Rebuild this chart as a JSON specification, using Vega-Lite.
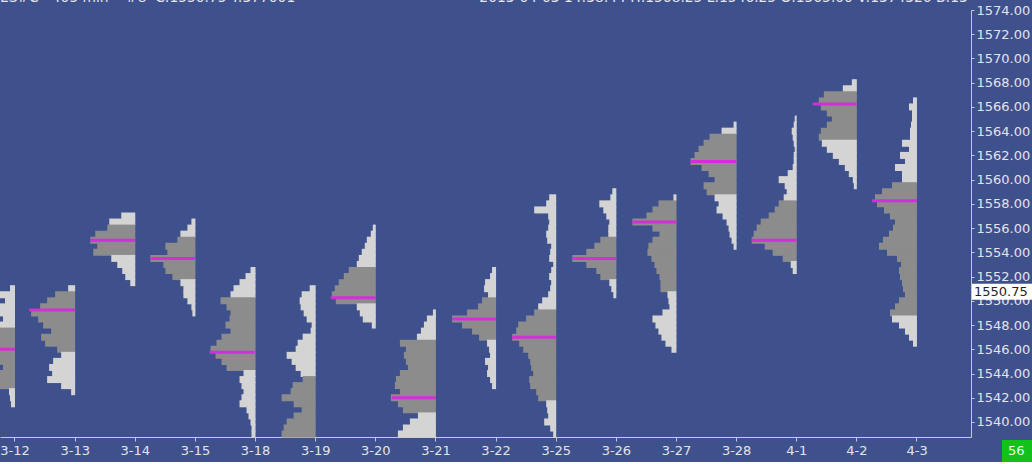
{
"$schema": "https://vega.github.io/schema/vega-lite/v6.json",
"width": 971, "height": 427,
"autosize": {"type": "none"},
"padding": {"left": 0, "top": 10, "right": 61, "bottom": 25},
"background": "#3f518c",
"config": {"view": {"stroke": null},
 "axis": {"domainColor": "#c5c8d8", "tickColor": "#c5c8d8", "labelColor": "#e2e4ea", "labelFont": "DejaVu Sans", "labelFontSize": 13, "grid": false, "title": null}},
"title": {"text": "ES#C\u00a0\u00a0\u00a0405 min\u00a0\u00a0\u00a0\u00a0#8\u00a0\u00a0C:1550.75\u00a0T:377001\u00a0\u00a0\u00a0\u00a0\u00a0\u00a0\u00a0\u00a0\u00a0\u00a0\u00a0\u00a0\u00a0\u00a0\u00a0\u00a0\u00a0\u00a0\u00a0\u00a0\u00a0\u00a0\u00a0\u00a0\u00a0\u00a0\u00a0\u00a0\u00a0\u00a0\u00a0\u00a0\u00a0\u00a0\u00a0\u00a0\u00a0\u00a0\u00a0\u00a0\u00a0\u00a02013-04-03 14:38:44 H:1568.25 L:1546.25 O:1565.00 V:1374326 B:13", "anchor": "start", "frame": "group", "offset": -12, "color": "#e6e6ee", "font": "DejaVu Sans", "fontSize": 13.8, "fontWeight": "normal", "baseline": "alphabetic"},
"datasets": {
"rows": [
{"d":"3-12","p":1551.0,"n":5,"t":"O"},{"d":"3-12","p":1550.5,"n":18,"t":"O"},{"d":"3-12","p":1550.0,"n":10,"t":"O"},{"d":"3-12","p":1549.5,"n":20,"t":"O"},{"d":"3-12","p":1549.0,"n":22,"t":"O"},{"d":"3-12","p":1548.5,"n":12,"t":"O"},{"d":"3-12","p":1548.0,"n":25,"t":"O"},{"d":"3-12","p":1547.5,"n":28,"t":"V"},{"d":"3-12","p":1547.0,"n":32,"t":"V"},{"d":"3-12","p":1546.5,"n":38,"t":"V"},{"d":"3-12","p":1546.0,"n":45,"t":"V"},{"d":"3-12","p":1545.5,"n":35,"t":"V"},{"d":"3-12","p":1545.0,"n":30,"t":"V"},{"d":"3-12","p":1544.5,"n":12,"t":"V"},{"d":"3-12","p":1544.0,"n":25,"t":"V"},{"d":"3-12","p":1543.5,"n":20,"t":"V"},{"d":"3-12","p":1543.0,"n":18,"t":"V"},{"d":"3-12","p":1542.5,"n":6,"t":"O"},{"d":"3-12","p":1542.0,"n":5,"t":"O"},{"d":"3-12","p":1541.5,"n":4,"t":"O"},
{"d":"3-13","p":1551.0,"n":7,"t":"O"},{"d":"3-13","p":1550.5,"n":20,"t":"V"},{"d":"3-13","p":1550.0,"n":28,"t":"V"},{"d":"3-13","p":1549.5,"n":35,"t":"V"},{"d":"3-13","p":1549.0,"n":44,"t":"V"},{"d":"3-13","p":1548.5,"n":37,"t":"V"},{"d":"3-13","p":1548.0,"n":32,"t":"V"},{"d":"3-13","p":1547.5,"n":24,"t":"V"},{"d":"3-13","p":1547.0,"n":34,"t":"V"},{"d":"3-13","p":1546.5,"n":30,"t":"V"},{"d":"3-13","p":1546.0,"n":18,"t":"V"},{"d":"3-13","p":1545.5,"n":14,"t":"O"},{"d":"3-13","p":1545.0,"n":22,"t":"O"},{"d":"3-13","p":1544.5,"n":26,"t":"O"},{"d":"3-13","p":1544.0,"n":23,"t":"O"},{"d":"3-13","p":1543.5,"n":28,"t":"O"},{"d":"3-13","p":1543.0,"n":14,"t":"O"},{"d":"3-13","p":1542.5,"n":4,"t":"O"},
{"d":"3-14","p":1557.0,"n":14,"t":"O"},{"d":"3-14","p":1556.5,"n":26,"t":"O"},{"d":"3-14","p":1556.0,"n":28,"t":"V"},{"d":"3-14","p":1555.5,"n":40,"t":"V"},{"d":"3-14","p":1555.0,"n":45,"t":"V"},{"d":"3-14","p":1554.5,"n":38,"t":"V"},{"d":"3-14","p":1554.0,"n":42,"t":"V"},{"d":"3-14","p":1553.5,"n":24,"t":"O"},{"d":"3-14","p":1553.0,"n":18,"t":"O"},{"d":"3-14","p":1552.5,"n":13,"t":"O"},{"d":"3-14","p":1552.0,"n":10,"t":"O"},{"d":"3-14","p":1551.5,"n":5,"t":"O"},
{"d":"3-15","p":1556.5,"n":4,"t":"O"},{"d":"3-15","p":1556.0,"n":8,"t":"O"},{"d":"3-15","p":1555.5,"n":15,"t":"O"},{"d":"3-15","p":1555.0,"n":18,"t":"V"},{"d":"3-15","p":1554.5,"n":30,"t":"V"},{"d":"3-15","p":1554.0,"n":28,"t":"V"},{"d":"3-15","p":1553.5,"n":45,"t":"V"},{"d":"3-15","p":1553.0,"n":32,"t":"V"},{"d":"3-15","p":1552.5,"n":30,"t":"V"},{"d":"3-15","p":1552.0,"n":23,"t":"V"},{"d":"3-15","p":1551.5,"n":15,"t":"O"},{"d":"3-15","p":1551.0,"n":12,"t":"O"},{"d":"3-15","p":1550.5,"n":12,"t":"O"},{"d":"3-15","p":1550.0,"n":8,"t":"O"},{"d":"3-15","p":1549.5,"n":4,"t":"O"},{"d":"3-15","p":1549.0,"n":3,"t":"O"},
{"d":"3-18","p":1552.5,"n":5,"t":"O"},{"d":"3-18","p":1552.0,"n":10,"t":"O"},{"d":"3-18","p":1551.5,"n":16,"t":"O"},{"d":"3-18","p":1551.0,"n":22,"t":"O"},{"d":"3-18","p":1550.5,"n":25,"t":"O"},{"d":"3-18","p":1550.0,"n":35,"t":"V"},{"d":"3-18","p":1549.5,"n":29,"t":"V"},{"d":"3-18","p":1549.0,"n":25,"t":"V"},{"d":"3-18","p":1548.5,"n":26,"t":"V"},{"d":"3-18","p":1548.0,"n":30,"t":"V"},{"d":"3-18","p":1547.5,"n":25,"t":"V"},{"d":"3-18","p":1547.0,"n":34,"t":"V"},{"d":"3-18","p":1546.5,"n":39,"t":"V"},{"d":"3-18","p":1546.0,"n":45,"t":"V"},{"d":"3-18","p":1545.5,"n":40,"t":"V"},{"d":"3-18","p":1545.0,"n":34,"t":"V"},{"d":"3-18","p":1544.5,"n":29,"t":"V"},{"d":"3-18","p":1544.0,"n":12,"t":"O"},{"d":"3-18","p":1543.5,"n":16,"t":"O"},{"d":"3-18","p":1543.0,"n":14,"t":"O"},{"d":"3-18","p":1542.5,"n":12,"t":"O"},{"d":"3-18","p":1542.0,"n":14,"t":"O"},{"d":"3-18","p":1541.5,"n":16,"t":"O"},{"d":"3-18","p":1541.0,"n":9,"t":"O"},{"d":"3-18","p":1540.5,"n":7,"t":"O"},{"d":"3-18","p":1540.0,"n":5,"t":"O"},{"d":"3-18","p":1539.5,"n":4,"t":"O"},{"d":"3-18","p":1539.0,"n":4,"t":"O"},
{"d":"3-19","p":1551.0,"n":6,"t":"O"},{"d":"3-19","p":1550.5,"n":14,"t":"O"},{"d":"3-19","p":1550.0,"n":16,"t":"O"},{"d":"3-19","p":1549.5,"n":15,"t":"O"},{"d":"3-19","p":1549.0,"n":12,"t":"O"},{"d":"3-19","p":1548.5,"n":9,"t":"O"},{"d":"3-19","p":1548.0,"n":4,"t":"O"},{"d":"3-19","p":1547.5,"n":5,"t":"O"},{"d":"3-19","p":1547.0,"n":13,"t":"O"},{"d":"3-19","p":1546.5,"n":18,"t":"O"},{"d":"3-19","p":1546.0,"n":20,"t":"O"},{"d":"3-19","p":1545.5,"n":29,"t":"O"},{"d":"3-19","p":1545.0,"n":24,"t":"O"},{"d":"3-19","p":1544.5,"n":20,"t":"O"},{"d":"3-19","p":1544.0,"n":15,"t":"O"},{"d":"3-19","p":1543.5,"n":13,"t":"V"},{"d":"3-19","p":1543.0,"n":23,"t":"V"},{"d":"3-19","p":1542.5,"n":25,"t":"V"},{"d":"3-19","p":1542.0,"n":34,"t":"V"},{"d":"3-19","p":1541.5,"n":22,"t":"V"},{"d":"3-19","p":1541.0,"n":14,"t":"V"},{"d":"3-19","p":1540.5,"n":22,"t":"V"},{"d":"3-19","p":1540.0,"n":29,"t":"V"},{"d":"3-19","p":1539.5,"n":32,"t":"V"},{"d":"3-19","p":1539.0,"n":34,"t":"V"},
{"d":"3-20","p":1556.0,"n":3,"t":"O"},{"d":"3-20","p":1555.5,"n":5,"t":"O"},{"d":"3-20","p":1555.0,"n":9,"t":"O"},{"d":"3-20","p":1554.5,"n":11,"t":"O"},{"d":"3-20","p":1554.0,"n":14,"t":"O"},{"d":"3-20","p":1553.5,"n":17,"t":"O"},{"d":"3-20","p":1553.0,"n":19,"t":"O"},{"d":"3-20","p":1552.5,"n":27,"t":"V"},{"d":"3-20","p":1552.0,"n":32,"t":"V"},{"d":"3-20","p":1551.5,"n":37,"t":"V"},{"d":"3-20","p":1551.0,"n":41,"t":"V"},{"d":"3-20","p":1550.5,"n":44,"t":"V"},{"d":"3-20","p":1550.0,"n":40,"t":"V"},{"d":"3-20","p":1549.5,"n":19,"t":"O"},{"d":"3-20","p":1549.0,"n":16,"t":"O"},{"d":"3-20","p":1548.5,"n":13,"t":"O"},{"d":"3-20","p":1548.0,"n":4,"t":"O"},
{"d":"3-21","p":1549.0,"n":3,"t":"O"},{"d":"3-21","p":1548.5,"n":9,"t":"O"},{"d":"3-21","p":1548.0,"n":12,"t":"O"},{"d":"3-21","p":1547.5,"n":15,"t":"O"},{"d":"3-21","p":1547.0,"n":19,"t":"O"},{"d":"3-21","p":1546.5,"n":36,"t":"V"},{"d":"3-21","p":1546.0,"n":30,"t":"V"},{"d":"3-21","p":1545.5,"n":32,"t":"V"},{"d":"3-21","p":1545.0,"n":30,"t":"V"},{"d":"3-21","p":1544.5,"n":28,"t":"V"},{"d":"3-21","p":1544.0,"n":36,"t":"V"},{"d":"3-21","p":1543.5,"n":40,"t":"V"},{"d":"3-21","p":1543.0,"n":41,"t":"V"},{"d":"3-21","p":1542.5,"n":36,"t":"V"},{"d":"3-21","p":1542.0,"n":45,"t":"V"},{"d":"3-21","p":1541.5,"n":38,"t":"V"},{"d":"3-21","p":1541.0,"n":33,"t":"V"},{"d":"3-21","p":1540.5,"n":18,"t":"O"},{"d":"3-21","p":1540.0,"n":26,"t":"O"},{"d":"3-21","p":1539.5,"n":33,"t":"O"},{"d":"3-21","p":1539.0,"n":38,"t":"O"},
{"d":"3-22","p":1552.5,"n":4,"t":"O"},{"d":"3-22","p":1552.0,"n":6,"t":"O"},{"d":"3-22","p":1551.5,"n":11,"t":"O"},{"d":"3-22","p":1551.0,"n":12,"t":"O"},{"d":"3-22","p":1550.5,"n":8,"t":"O"},{"d":"3-22","p":1550.0,"n":14,"t":"V"},{"d":"3-22","p":1549.5,"n":18,"t":"V"},{"d":"3-22","p":1549.0,"n":29,"t":"V"},{"d":"3-22","p":1548.5,"n":44,"t":"V"},{"d":"3-22","p":1548.0,"n":34,"t":"V"},{"d":"3-22","p":1547.5,"n":24,"t":"V"},{"d":"3-22","p":1547.0,"n":17,"t":"V"},{"d":"3-22","p":1546.5,"n":9,"t":"O"},{"d":"3-22","p":1546.0,"n":7,"t":"O"},{"d":"3-22","p":1545.5,"n":6,"t":"O"},{"d":"3-22","p":1545.0,"n":11,"t":"O"},{"d":"3-22","p":1544.5,"n":8,"t":"O"},{"d":"3-22","p":1544.0,"n":9,"t":"O"},{"d":"3-22","p":1543.5,"n":6,"t":"O"},{"d":"3-22","p":1543.0,"n":4,"t":"O"},
{"d":"3-25","p":1558.5,"n":7,"t":"O"},{"d":"3-25","p":1558.0,"n":10,"t":"O"},{"d":"3-25","p":1557.5,"n":22,"t":"O"},{"d":"3-25","p":1557.0,"n":8,"t":"O"},{"d":"3-25","p":1556.5,"n":7,"t":"O"},{"d":"3-25","p":1556.0,"n":8,"t":"O"},{"d":"3-25","p":1555.5,"n":10,"t":"O"},{"d":"3-25","p":1555.0,"n":9,"t":"O"},{"d":"3-25","p":1554.5,"n":5,"t":"O"},{"d":"3-25","p":1554.0,"n":6,"t":"O"},{"d":"3-25","p":1553.5,"n":7,"t":"O"},{"d":"3-25","p":1553.0,"n":3,"t":"O"},{"d":"3-25","p":1552.5,"n":5,"t":"O"},{"d":"3-25","p":1552.0,"n":7,"t":"O"},{"d":"3-25","p":1551.5,"n":5,"t":"O"},{"d":"3-25","p":1551.0,"n":6,"t":"O"},{"d":"3-25","p":1550.5,"n":8,"t":"O"},{"d":"3-25","p":1550.0,"n":14,"t":"O"},{"d":"3-25","p":1549.5,"n":18,"t":"O"},{"d":"3-25","p":1549.0,"n":22,"t":"V"},{"d":"3-25","p":1548.5,"n":30,"t":"V"},{"d":"3-25","p":1548.0,"n":38,"t":"V"},{"d":"3-25","p":1547.5,"n":40,"t":"V"},{"d":"3-25","p":1547.0,"n":44,"t":"V"},{"d":"3-25","p":1546.5,"n":37,"t":"V"},{"d":"3-25","p":1546.0,"n":33,"t":"V"},{"d":"3-25","p":1545.5,"n":28,"t":"V"},{"d":"3-25","p":1545.0,"n":26,"t":"V"},{"d":"3-25","p":1544.5,"n":25,"t":"V"},{"d":"3-25","p":1544.0,"n":23,"t":"V"},{"d":"3-25","p":1543.5,"n":27,"t":"V"},{"d":"3-25","p":1543.0,"n":26,"t":"V"},{"d":"3-25","p":1542.5,"n":20,"t":"V"},{"d":"3-25","p":1542.0,"n":18,"t":"V"},{"d":"3-25","p":1541.5,"n":10,"t":"O"},{"d":"3-25","p":1541.0,"n":9,"t":"O"},{"d":"3-25","p":1540.5,"n":8,"t":"O"},{"d":"3-25","p":1540.0,"n":12,"t":"O"},{"d":"3-25","p":1539.5,"n":6,"t":"O"},{"d":"3-25","p":1539.0,"n":3,"t":"O"},
{"d":"3-26","p":1559.0,"n":4,"t":"O"},{"d":"3-26","p":1558.5,"n":6,"t":"O"},{"d":"3-26","p":1558.0,"n":17,"t":"O"},{"d":"3-26","p":1557.5,"n":13,"t":"O"},{"d":"3-26","p":1557.0,"n":10,"t":"O"},{"d":"3-26","p":1556.5,"n":7,"t":"O"},{"d":"3-26","p":1556.0,"n":8,"t":"O"},{"d":"3-26","p":1555.5,"n":8,"t":"O"},{"d":"3-26","p":1555.0,"n":16,"t":"V"},{"d":"3-26","p":1554.5,"n":22,"t":"V"},{"d":"3-26","p":1554.0,"n":30,"t":"V"},{"d":"3-26","p":1553.5,"n":44,"t":"V"},{"d":"3-26","p":1553.0,"n":30,"t":"V"},{"d":"3-26","p":1552.5,"n":20,"t":"V"},{"d":"3-26","p":1552.0,"n":16,"t":"V"},{"d":"3-26","p":1551.5,"n":7,"t":"O"},{"d":"3-26","p":1551.0,"n":5,"t":"O"},{"d":"3-26","p":1550.5,"n":3,"t":"O"},
{"d":"3-27","p":1558.5,"n":3,"t":"O"},{"d":"3-27","p":1558.0,"n":18,"t":"V"},{"d":"3-27","p":1557.5,"n":24,"t":"V"},{"d":"3-27","p":1557.0,"n":30,"t":"V"},{"d":"3-27","p":1556.5,"n":44,"t":"V"},{"d":"3-27","p":1556.0,"n":24,"t":"V"},{"d":"3-27","p":1555.5,"n":17,"t":"V"},{"d":"3-27","p":1555.0,"n":24,"t":"V"},{"d":"3-27","p":1554.5,"n":28,"t":"V"},{"d":"3-27","p":1554.0,"n":29,"t":"V"},{"d":"3-27","p":1553.5,"n":25,"t":"V"},{"d":"3-27","p":1553.0,"n":22,"t":"V"},{"d":"3-27","p":1552.5,"n":20,"t":"V"},{"d":"3-27","p":1552.0,"n":17,"t":"V"},{"d":"3-27","p":1551.5,"n":16,"t":"V"},{"d":"3-27","p":1551.0,"n":16,"t":"V"},{"d":"3-27","p":1550.5,"n":9,"t":"O"},{"d":"3-27","p":1550.0,"n":8,"t":"O"},{"d":"3-27","p":1549.5,"n":7,"t":"O"},{"d":"3-27","p":1549.0,"n":14,"t":"O"},{"d":"3-27","p":1548.5,"n":24,"t":"O"},{"d":"3-27","p":1548.0,"n":21,"t":"O"},{"d":"3-27","p":1547.5,"n":18,"t":"O"},{"d":"3-27","p":1547.0,"n":15,"t":"O"},{"d":"3-27","p":1546.5,"n":11,"t":"O"},{"d":"3-27","p":1546.0,"n":5,"t":"O"},
{"d":"3-28","p":1564.5,"n":3,"t":"O"},{"d":"3-28","p":1564.0,"n":15,"t":"O"},{"d":"3-28","p":1563.5,"n":27,"t":"V"},{"d":"3-28","p":1563.0,"n":33,"t":"V"},{"d":"3-28","p":1562.5,"n":38,"t":"V"},{"d":"3-28","p":1562.0,"n":42,"t":"V"},{"d":"3-28","p":1561.5,"n":46,"t":"V"},{"d":"3-28","p":1561.0,"n":35,"t":"V"},{"d":"3-28","p":1560.5,"n":28,"t":"V"},{"d":"3-28","p":1560.0,"n":22,"t":"V"},{"d":"3-28","p":1559.5,"n":33,"t":"V"},{"d":"3-28","p":1559.0,"n":30,"t":"V"},{"d":"3-28","p":1558.5,"n":22,"t":"O"},{"d":"3-28","p":1558.0,"n":18,"t":"O"},{"d":"3-28","p":1557.5,"n":20,"t":"O"},{"d":"3-28","p":1557.0,"n":14,"t":"O"},{"d":"3-28","p":1556.5,"n":10,"t":"O"},{"d":"3-28","p":1556.0,"n":8,"t":"O"},{"d":"3-28","p":1555.5,"n":7,"t":"O"},{"d":"3-28","p":1555.0,"n":5,"t":"O"},{"d":"3-28","p":1554.5,"n":3,"t":"O"},
{"d":"4-1","p":1565.0,"n":2,"t":"O"},{"d":"4-1","p":1564.5,"n":3,"t":"O"},{"d":"4-1","p":1564.0,"n":5,"t":"O"},{"d":"4-1","p":1563.5,"n":4,"t":"O"},{"d":"4-1","p":1563.0,"n":3,"t":"O"},{"d":"4-1","p":1562.5,"n":2,"t":"O"},{"d":"4-1","p":1562.0,"n":3,"t":"O"},{"d":"4-1","p":1561.5,"n":3,"t":"O"},{"d":"4-1","p":1561.0,"n":4,"t":"O"},{"d":"4-1","p":1560.5,"n":9,"t":"O"},{"d":"4-1","p":1560.0,"n":18,"t":"O"},{"d":"4-1","p":1559.5,"n":12,"t":"O"},{"d":"4-1","p":1559.0,"n":10,"t":"O"},{"d":"4-1","p":1558.5,"n":13,"t":"O"},{"d":"4-1","p":1558.0,"n":18,"t":"V"},{"d":"4-1","p":1557.5,"n":22,"t":"V"},{"d":"4-1","p":1557.0,"n":28,"t":"V"},{"d":"4-1","p":1556.5,"n":36,"t":"V"},{"d":"4-1","p":1556.0,"n":40,"t":"V"},{"d":"4-1","p":1555.5,"n":43,"t":"V"},{"d":"4-1","p":1555.0,"n":45,"t":"V"},{"d":"4-1","p":1554.5,"n":32,"t":"V"},{"d":"4-1","p":1554.0,"n":24,"t":"V"},{"d":"4-1","p":1553.5,"n":14,"t":"V"},{"d":"4-1","p":1553.0,"n":6,"t":"O"},{"d":"4-1","p":1552.5,"n":4,"t":"O"},
{"d":"4-2","p":1568.0,"n":5,"t":"O"},{"d":"4-2","p":1567.5,"n":14,"t":"O"},{"d":"4-2","p":1567.0,"n":33,"t":"V"},{"d":"4-2","p":1566.5,"n":38,"t":"V"},{"d":"4-2","p":1566.0,"n":36,"t":"V"},{"d":"4-2","p":1565.5,"n":30,"t":"V"},{"d":"4-2","p":1565.0,"n":25,"t":"V"},{"d":"4-2","p":1564.5,"n":30,"t":"V"},{"d":"4-2","p":1564.0,"n":36,"t":"V"},{"d":"4-2","p":1563.5,"n":38,"t":"V"},{"d":"4-2","p":1563.0,"n":35,"t":"O"},{"d":"4-2","p":1562.5,"n":30,"t":"O"},{"d":"4-2","p":1562.0,"n":24,"t":"O"},{"d":"4-2","p":1561.5,"n":18,"t":"O"},{"d":"4-2","p":1561.0,"n":12,"t":"O"},{"d":"4-2","p":1560.5,"n":8,"t":"O"},{"d":"4-2","p":1560.0,"n":4,"t":"O"},{"d":"4-2","p":1559.5,"n":3,"t":"O"},
{"d":"4-3","p":1566.5,"n":4,"t":"O"},{"d":"4-3","p":1566.0,"n":8,"t":"O"},{"d":"4-3","p":1565.5,"n":5,"t":"O"},{"d":"4-3","p":1565.0,"n":5,"t":"O"},{"d":"4-3","p":1564.5,"n":6,"t":"O"},{"d":"4-3","p":1564.0,"n":7,"t":"O"},{"d":"4-3","p":1563.5,"n":7,"t":"O"},{"d":"4-3","p":1563.0,"n":15,"t":"O"},{"d":"4-3","p":1562.5,"n":8,"t":"O"},{"d":"4-3","p":1562.0,"n":17,"t":"O"},{"d":"4-3","p":1561.5,"n":12,"t":"O"},{"d":"4-3","p":1561.0,"n":22,"t":"O"},{"d":"4-3","p":1560.5,"n":15,"t":"O"},{"d":"4-3","p":1560.0,"n":15,"t":"O"},{"d":"4-3","p":1559.5,"n":25,"t":"V"},{"d":"4-3","p":1559.0,"n":35,"t":"V"},{"d":"4-3","p":1558.5,"n":42,"t":"V"},{"d":"4-3","p":1558.0,"n":40,"t":"V"},{"d":"4-3","p":1557.5,"n":33,"t":"V"},{"d":"4-3","p":1557.0,"n":27,"t":"V"},{"d":"4-3","p":1556.5,"n":22,"t":"V"},{"d":"4-3","p":1556.0,"n":24,"t":"V"},{"d":"4-3","p":1555.5,"n":28,"t":"V"},{"d":"4-3","p":1555.0,"n":34,"t":"V"},{"d":"4-3","p":1554.5,"n":38,"t":"V"},{"d":"4-3","p":1554.0,"n":30,"t":"V"},{"d":"4-3","p":1553.5,"n":20,"t":"V"},{"d":"4-3","p":1553.0,"n":16,"t":"V"},{"d":"4-3","p":1552.5,"n":18,"t":"V"},{"d":"4-3","p":1552.0,"n":17,"t":"V"},{"d":"4-3","p":1551.5,"n":15,"t":"V"},{"d":"4-3","p":1551.0,"n":14,"t":"V"},{"d":"4-3","p":1550.5,"n":12,"t":"V"},{"d":"4-3","p":1550.0,"n":18,"t":"V"},{"d":"4-3","p":1549.5,"n":22,"t":"V"},{"d":"4-3","p":1549.0,"n":27,"t":"V"},{"d":"4-3","p":1548.5,"n":25,"t":"O"},{"d":"4-3","p":1548.0,"n":18,"t":"O"},{"d":"4-3","p":1547.5,"n":12,"t":"O"},{"d":"4-3","p":1547.0,"n":8,"t":"O"},{"d":"4-3","p":1546.5,"n":4,"t":"O"}
],
"poc": [
{"d":"3-12","p":1546.0,"n":45},{"d":"3-13","p":1549.25,"n":46},{"d":"3-14","p":1555.0,"n":45},{"d":"3-15","p":1553.5,"n":45},{"d":"3-18","p":1545.75,"n":46},{"d":"3-20","p":1550.25,"n":45},{"d":"3-21","p":1542.0,"n":44},{"d":"3-22","p":1548.5,"n":44},{"d":"3-25","p":1547.0,"n":44},{"d":"3-26","p":1553.5,"n":44},{"d":"3-27","p":1556.5,"n":44},{"d":"3-28","p":1561.5,"n":46},{"d":"4-1","p":1555.0,"n":45},{"d":"4-2","p":1566.25,"n":44},{"d":"4-3","p":1558.25,"n":45}
],
"last": [{"p":1550.75,"label":"1550.75"}],
"timer": [{"label":"56"}]
},
"encoding": {
 "x": {"field":"d","type":"ordinal","sort":null,
  "scale":{"type":"band","domain":["3-12","3-13","3-14","3-15","3-18","3-19","3-20","3-21","3-22","3-25","3-26","3-27","3-28","4-1","4-2","4-3"],"paddingInner":0,"paddingOuter":0.074,"align":0},
  "axis":{"orient":"bottom","labelAngle":0,"bandPosition":0.2494,"labelOffset":-15,"tickSize":4,"labelPadding":3}},
 "y": {"field":"p","type":"quantitative",
  "scale":{"domain":[1538.76,1574],"nice":false,"zero":false},
  "axis":{"orient":"right","values":[1540,1542,1544,1546,1548,1550,1552,1554,1556,1558,1560,1562,1564,1566,1568,1570,1572,1574],"format":".2f","tickSize":3,"labelPadding":2,"labelOverlap":false,"labelFlush":false}}
},
"layer": [
 {"data":{"name":"rows"},
  "mark":{"type":"tick","orient":"horizontal","thickness":7,"opacity":1},
  "encoding":{
   "xOffset":{"field":"n","type":"quantitative","scale":{"domain":[0,50],"range":[15,-10]}},
   "size":{"field":"n","type":"quantitative","scale":{"domain":[0,50],"range":[0,50]},"legend":null},
   "color":{"field":"t","type":"nominal","scale":{"domain":["V","O"],"range":["#8c8c8c","#d4d4d4"]},"legend":null}}},
 {"data":{"name":"poc"},
  "mark":{"type":"tick","orient":"horizontal","thickness":3,"opacity":1,"color":"#d22fd6"},
  "encoding":{
   "xOffset":{"field":"n","type":"quantitative"},
   "size":{"field":"n","type":"quantitative","legend":null}}},
 {"data":{"name":"last"},
  "mark":{"type":"tick","orient":"horizontal","thickness":16,"size":60,"opacity":1,"color":"#ffffff","clip":false},
  "encoding":{"x":{"value":{"expr":"width+31"}}}},
 {"data":{"name":"last"},
  "mark":{"type":"text","align":"left","font":"DejaVu Sans","fontSize":13,"color":"#1e1e28","clip":false},
  "encoding":{"x":{"value":{"expr":"width+3"}},"text":{"field":"label"}}},
 {"data":{"name":"timer"},
  "mark":{"type":"tick","orient":"horizontal","thickness":22,"size":30,"opacity":1,"color":"#12c21a","clip":false},
  "encoding":{"x":{"value":{"expr":"width+46"}},"y":{"value":{"expr":"height+14"}}}},
 {"data":{"name":"timer"},
  "mark":{"type":"text","align":"left","font":"DejaVu Sans","fontSize":13,"color":"#e8ffe8","clip":false},
  "encoding":{"x":{"value":{"expr":"width+37"}},"y":{"value":{"expr":"height+14"}},"text":{"field":"label"}}}
]
}
